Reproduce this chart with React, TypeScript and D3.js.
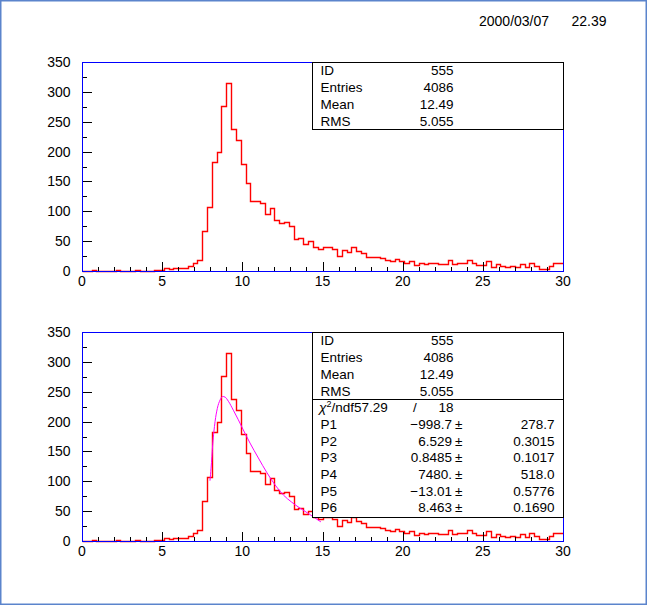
import * as d3 from "d3";

// histogram 555: 100 bins from 0 to 30
const nBins = 100;
const xMin = 0;
const xMax = 30;
const counts = [
  0, 0, 1, 0, 0, 0, 0, 1, 0, 0,
  0, 1, 0, 0, 0, 1, 1, 5, 3, 5,
  5, 5, 9, 13, 18, 67, 107, 182, 200, 277,
  314, 237, 219, 179, 147, 117, 117, 114, 95, 105,
  85, 80, 82, 75, 54, 55, 46, 50, 41, 37,
  41, 41, 37, 25, 36, 32, 40, 33, 30, 24,
  24, 24, 22, 19, 17, 20, 17, 13, 17, 10,
  14, 12, 14, 14, 11, 11, 18, 11, 14, 13,
  19, 14, 10, 10, 16, 6, 11, 8, 6, 9,
  6, 11, 6, 13, 8, 4, 4, 9, 14, 13,
];

// fitted curve
const fitX = [7.98, 8.05, 8.15, 8.3, 8.44, 8.61, 8.77, 8.92, 9.13, 9.44, 9.75, 10.06, 10.48, 11.0, 11.52, 12.04, 12.56, 13.08, 13.6, 14.12, 14.9];
const fitY = [101, 122, 161, 200, 222, 236, 242, 241, 234, 219, 203, 186, 164, 139, 115, 94, 77, 65, 55, 46, 32];

const xTickLabels = [0, 5, 10, 15, 20, 25, 30];
const yTickLabels = [0, 50, 100, 150, 200, 250, 300, 350];

const statNames = ["ID", "Entries", "Mean", "RMS"];
const statValues = ["555", "4086", "12.49", "5.055"];

const chiValue = "57.29";
const ndfValue = "18";
const parNames = ["P1", "P2", "P3", "P4", "P5", "P6"];
const parValues = ["\u2212998.7", "6.529", "0.8485", "7480.", "\u221213.01", "8.463"];
const parErrors = ["278.7", "0.3015", "0.1017", "518.0", "0.5776", "0.1690"];

const dateText = "2000/03/07";
const timeText = "22.39";

const W = 647;
const H = 605;
const FONT = "'Liberation Sans', Arial, sans-serif";

const x = d3.scaleLinear().domain([xMin, xMax]).range([82, 563]);
const binW = (xMax - xMin) / nBins;

const Pad = ({ top, withFit }: { top: number; withFit: boolean }) => {
  const bottom = top + 209;
  const y = d3.scaleLinear().domain([0, 350]).range([bottom, top]);

  const stepPts: [number, number][] = counts.map((c, i) => [xMin + i * binW, c]);
  stepPts.push([xMax, counts[counts.length - 1]]);
  const histPath = d3.line<[number, number]>()
    .x(d => Math.round(x(d[0])) + 0.5)
    .y(d => Math.round(y(d[1])) + 0.5)
    .curve(d3.curveStepAfter)(stepPts) || "";

  const fitPath = d3.line<number>()
    .x((_, i) => x(fitX[i]))
    .y(d => y(d))
    .curve(d3.curveMonotoneX)(fitY) || "";

  const yMinor = d3.range(0, 351, 25);
  const xMinor = d3.range(0, 31, 1);

  const boxL = 312;
  const boxR = 563;
  const rowH = 16.7;
  const boxBottom = withFit ? top + 184.5 : top + 67;
  const divider = top + 67;
  const base = (k: number) => top + 13.4 + rowH * k;
  const px = (v: number) => Math.round(v) + 0.5;

  return (
    <g>
      <path d={histPath} fill="none" stroke="#ff0000" strokeWidth={1.4} />
      {withFit && <path d={fitPath} fill="none" stroke="#ff00ff" strokeWidth={1} />}

      {/* ticks */}
      <g shapeRendering="crispEdges">
        {yMinor.map(v => (
          <line key={"yt" + v} x1={82} x2={82 + (v % 50 === 0 ? 10 : 5)} y1={px(y(v))} y2={px(y(v))} stroke="#000" strokeWidth={1} />
        ))}
        {xMinor.map(v => (
          <line key={"xt" + v} x1={px(x(v))} x2={px(x(v))} y1={bottom} y2={bottom - (v % 5 === 0 ? 9 : 4.5)} stroke="#000" strokeWidth={1} />
        ))}
        {/* frame */}
        <rect x={82.5} y={top + 0.5} width={481} height={209} fill="none" stroke="#0000ff" strokeWidth={1} />
      </g>

      {/* axis labels */}
      {yTickLabels.map(v => (
        <text key={"yl" + v} x={70.5} y={y(v) + 5} textAnchor="end" fontSize={14} fontFamily={FONT}>{v}</text>
      ))}
      {xTickLabels.map(v => (
        <text key={"xl" + v} x={x(v)} y={bottom + 15} textAnchor="middle" fontSize={14} fontFamily={FONT}>{v}</text>
      ))}

      {/* stats box */}
      <g shapeRendering="crispEdges">
        <rect x={boxL + 0.5} y={top + 0.5} width={boxR - boxL} height={Math.round(boxBottom - top)} fill="#fff" stroke="#000" strokeWidth={1} />
        {withFit && <line x1={boxL} x2={boxR} y1={px(divider)} y2={px(divider)} stroke="#000" strokeWidth={1} />}
      </g>
      <g fontSize={13.5} fontFamily={FONT}>
        {statNames.map((n, k) => (
          <g key={n}>
            <text x={320.5} y={base(k)}>{n}</text>
            <text x={453.5} y={base(k)} textAnchor="end">{statValues[k]}</text>
          </g>
        ))}
        {withFit && (
          <g>
            <text x={319} y={base(4)}>
              <tspan fontStyle="italic">{"\u03c7"}</tspan>
              <tspan dy={-5} fontSize={9}>2</tspan>
              <tspan dy={5}>{"/ndf" + chiValue}</tspan>
            </text>
            <text x={415} y={base(4)} textAnchor="middle">/</text>
            <text x={453.5} y={base(4)} textAnchor="end">{ndfValue}</text>
            {parNames.map((n, k) => (
              <g key={n}>
                <text x={320.5} y={base(k + 5)}>{n}</text>
                <text x={452} y={base(k + 5)} textAnchor="end">{parValues[k]}</text>
                <text x={455} y={base(k + 5)}>{"\u00b1"}</text>
                <text x={554.5} y={base(k + 5)} textAnchor="end">{parErrors[k]}</text>
              </g>
            ))}
          </g>
        )}
      </g>
    </g>
  );
};

export default function App() {
  return (
    <div style={{ position: "fixed", left: 0, top: 0 }}>
      <svg width={W} height={H} viewBox={`0 0 ${W} ${H}`} style={{ display: "block", background: "#fff" }}>
        <rect x={0.75} y={0.75} width={W - 1.5} height={H - 1.5} fill="#fff" stroke="#5b84cc" strokeWidth={1.5} />
        <text x={479} y={26} fontSize={14} fontFamily={FONT}>{dateText}</text>
        <text x={571.5} y={26} fontSize={14} fontFamily={FONT}>{timeText}</text>
        <Pad top={62} withFit={false} />
        <Pad top={332} withFit={true} />
      </svg>
    </div>
  );
}
